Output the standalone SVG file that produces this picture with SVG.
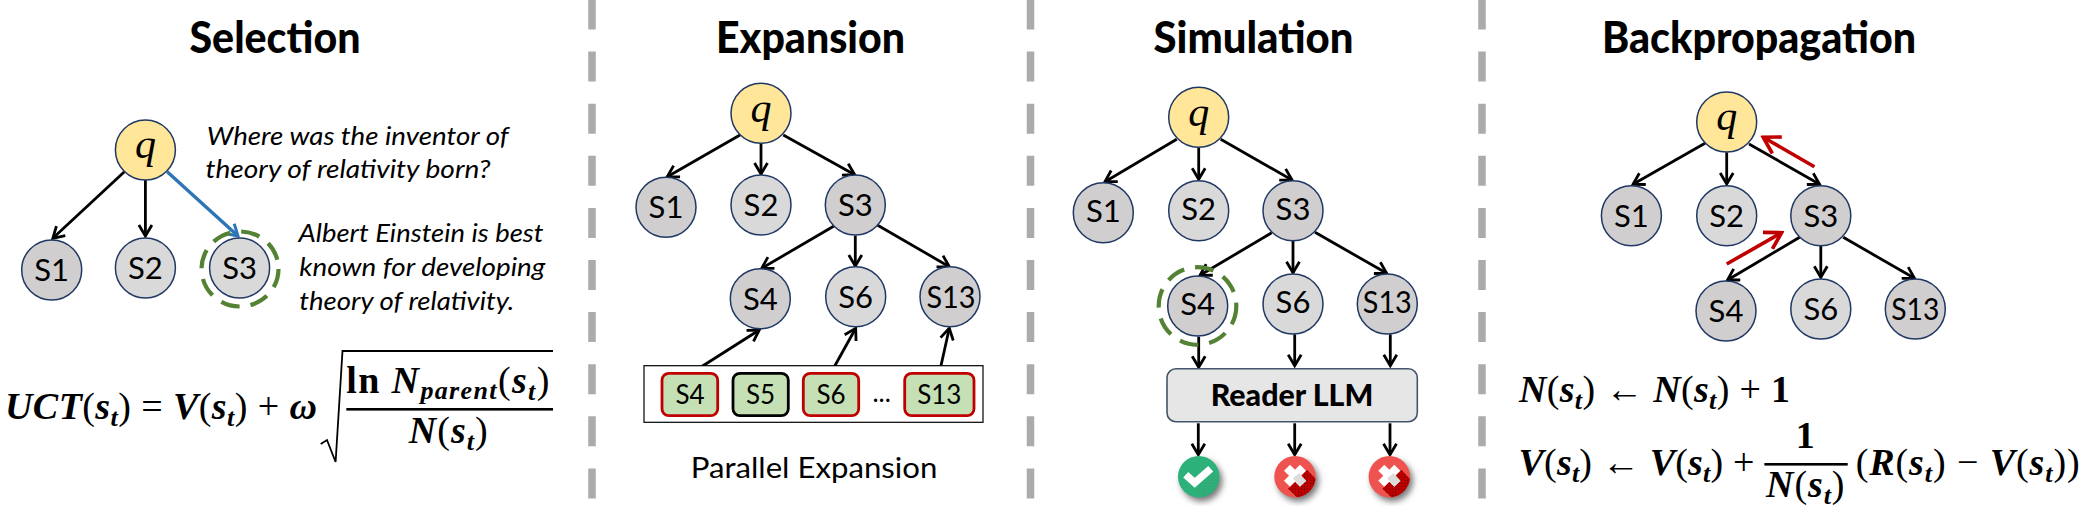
<svg xmlns="http://www.w3.org/2000/svg" xmlns:xlink="http://www.w3.org/1999/xlink" width="2088" height="506" viewBox="0 0 2088 506">
<style>
text{fill:#000;font-family:"Lato","Liberation Sans",sans-serif}
.title{font-size:43px;font-weight:900;text-anchor:middle}
.lbl{font-size:31px;text-anchor:middle}
.sm{font-size:26px;text-anchor:middle}
.it{font-size:26px;font-style:italic}
.cap{font-size:28px}
.rd{font-size:31px;font-weight:900}
.q{font-family:"Liberation Serif",serif;font-style:italic;font-size:42px;text-anchor:middle}
.eq{font-family:"Liberation Serif",serif;font-size:38px;font-weight:700;font-style:italic}
.u{font-weight:400;font-style:normal}
.ub{font-weight:700;font-style:normal}
.s{font-size:26px}
.c{stroke:#203864;stroke-width:1.5}
.a{fill:#d0cece}.b{fill:#d9d9d9}.y{fill:#ffe699}
.ring{fill:none;stroke:#548235;stroke-width:4.2;stroke-dasharray:19 11}
.sep{stroke:#ababab;stroke-width:7.5;stroke-dasharray:30 22.1}
.k{stroke:#000;stroke-width:2.8;fill:none;marker-end:url(#hk)}
.bl{stroke:#2e75b6;stroke-width:3.4;fill:none;marker-end:url(#hb)}
.r{stroke:#c00000;stroke-width:3.6;fill:none;marker-end:url(#hr)}
.cand{fill:#c5e0b4;stroke:#c00000;stroke-width:2.8}
.cand2{fill:#c5e0b4;stroke:#000;stroke-width:2.8}
</style>
<defs>
<marker id="hk" viewBox="0 0 16 16" refX="14" refY="8" markerWidth="16" markerHeight="16" markerUnits="userSpaceOnUse" orient="auto"><path d="M3,1.5 L14,8 L3,14.5" fill="none" stroke="#000" stroke-width="2.8"/></marker>
<marker id="hb" viewBox="0 0 16 16" refX="14" refY="8" markerWidth="16" markerHeight="16" markerUnits="userSpaceOnUse" orient="auto"><path d="M3,1.5 L14,8 L3,14.5" fill="none" stroke="#2e75b6" stroke-width="3"/></marker>
<marker id="hr" viewBox="0 0 22 22" refX="19" refY="11" markerWidth="22" markerHeight="22" markerUnits="userSpaceOnUse" orient="auto"><path d="M3,1.5 L19,11 L3,20.5" fill="none" stroke="#c00000" stroke-width="3.6"/></marker>
<filter id="sh" x="-30%" y="-30%" width="170%" height="170%"><feGaussianBlur stdDeviation="3"/></filter>
<clipPath id="cc"><circle r="20.7"/></clipPath>
<pattern id="dots" width="3" height="3" patternUnits="userSpaceOnUse"><rect width="3" height="3" fill="#c00000"/><rect width="1" height="1" fill="#400"/></pattern>
<pattern id="gdots" width="3" height="3" patternUnits="userSpaceOnUse"><rect width="3" height="3" fill="#2bb179"/><rect width="1" height="1" fill="#4f8f6c"/></pattern>
<g id="ok">
<circle cx="3" cy="4" r="20.7" fill="#777" filter="url(#sh)"/>
<circle r="20.7" fill="#2bb179"/>
<polygon points="-6,11 14,-5 30,12 12,30" fill="url(#gdots)" clip-path="url(#cc)"/>
<polyline points="-13,-2 -4,6 12,-8" fill="none" stroke="#fff" stroke-width="7.5"/>
</g>
<g id="no">
<circle cx="3" cy="4" r="20.7" fill="#777" filter="url(#sh)"/>
<circle r="20.7" fill="#ef5350"/>
<polygon points="-7,12 12,-7 30,12 12,30" fill="url(#dots)" clip-path="url(#cc)"/>
<path d="M-8,-9 L8,7 M8,-9 L-8,7" stroke="#fff" stroke-width="8.5" fill="none"/>
<path d="M1,-1 L8,7" stroke="#dcdcdc" stroke-width="8.5" fill="none"/>
</g>
</defs>
<rect width="2088" height="506" fill="#fff"/>

<g id="separators">
<line class="sep" x1="592" y1="-0.5" x2="592" y2="499"/>
<line class="sep" x1="1030.5" y1="-0.5" x2="1030.5" y2="499"/>
<line class="sep" x1="1482" y1="-0.5" x2="1482" y2="499"/>
</g>

<g id="titles">
<text class="title" x="275" y="53" textLength="171" lengthAdjust="spacingAndGlyphs">Selection</text>
<text class="title" x="810.5" y="53" textLength="189" lengthAdjust="spacingAndGlyphs">Expansion</text>
<text class="title" x="1253.5" y="53" textLength="200" lengthAdjust="spacingAndGlyphs">Simulation</text>
<text class="title" x="1759" y="53" textLength="314" lengthAdjust="spacingAndGlyphs">Backpropagation</text>
</g>

<g id="connectors">
<path class="k" d="M124.4,171.7 L52.8,238.3"/>
<path class="k" d="M145.4,180 V236"/>
<path class="bl" d="M167.2,171.7 L238,236"/>

<path class="k" d="M740,135 L667.3,176.7"/>
<path class="k" d="M761,143.3 V174"/>
<path class="k" d="M783.3,135 L854.7,174.7"/>
<path class="k" d="M834,226 L761.7,268.3"/>
<path class="k" d="M855.3,235.7 V266"/>
<path class="k" d="M877.7,225.3 L949.3,266.7"/>
<path class="k" d="M690,374 L759.3,330"/>
<path class="k" d="M830.7,373.3 L855.7,328.3"/>
<path class="k" d="M939.3,373.3 L949.3,328.3"/>

<path class="k" d="M1176.7,139.3 L1105,181.7"/>
<path class="k" d="M1198.7,147.3 V179.3"/>
<path class="k" d="M1220.7,139.3 L1292,180"/>
<path class="k" d="M1271.7,232.7 L1200,275.3"/>
<path class="k" d="M1293,240.7 V272.7"/>
<path class="k" d="M1315,232.3 L1386.7,273.3"/>
<path class="k" d="M1198.7,336.7 V367.3"/>
<path class="k" d="M1294.7,334.3 V365.7"/>
<path class="k" d="M1390.3,334.3 V365.7"/>
<path class="k" d="M1198.3,423.3 V454.7"/>
<path class="k" d="M1294.7,423.3 V454.7"/>
<path class="k" d="M1390,423.3 V454.7"/>

<path class="k" d="M1705,143.3 L1633,184.3"/>
<path class="k" d="M1726.7,152.3 V184"/>
<path class="k" d="M1749,144 L1819.6,184.3"/>
<path class="k" d="M1799.6,237.3 L1727.5,280"/>
<path class="k" d="M1820.8,246 V277.3"/>
<path class="k" d="M1843.3,237.3 L1914.5,278.3"/>
<path class="r" d="M1814.4,166.7 L1763.2,137.3"/>
<path class="r" d="M1726.7,264 L1781.6,232.7"/>
</g>

<g id="sel-q"><circle class="c y" cx="145.4" cy="150" r="30"/><text class="q" x="145.4" y="158">q</text></g>
<g id="sel-s1"><circle class="c a" cx="51.7" cy="270" r="30"/><text class="lbl" x="51.7" y="281">S1</text></g>
<g id="sel-s2"><circle class="c b" cx="145.4" cy="268" r="30"/><text class="lbl" x="145.4" y="279">S2</text></g>
<g id="sel-s3"><circle class="c b" cx="239.6" cy="268" r="30"/><text class="lbl" x="239.6" y="279">S3</text><ellipse class="ring" cx="240" cy="269" rx="38.5" ry="37.5"/></g>
<g id="sel-text">
<text class="it" x="206.7" y="145" textLength="302" lengthAdjust="spacingAndGlyphs">Where was the inventor of</text>
<text class="it" x="205.5" y="178" textLength="285" lengthAdjust="spacingAndGlyphs">theory of relativity born?</text>
<text class="it" x="298.5" y="241.7" textLength="245" lengthAdjust="spacingAndGlyphs">Albert Einstein is best</text>
<text class="it" x="299.3" y="276" textLength="246" lengthAdjust="spacingAndGlyphs">known for developing</text>
<text class="it" x="299.3" y="310" textLength="215" lengthAdjust="spacingAndGlyphs">theory of relativity.</text>
</g>
<g id="sel-formula">
<text class="eq" x="5" y="419" textLength="312" lengthAdjust="spacing">UCT<tspan class="u">(</tspan>s<tspan class="s" dy="7">t</tspan><tspan class="u" dy="-7">)</tspan><tspan class="u"> = </tspan>V<tspan class="u">(</tspan>s<tspan class="s" dy="7">t</tspan><tspan class="u" dy="-7">)</tspan><tspan class="u"> + </tspan>ω</text>
<path d="M320.7,444 L327,440 L335.6,462 L342.5,351 H553" fill="none" stroke="#000" stroke-width="1.8"/>
<text class="eq" x="346.3" y="392.7" textLength="203" lengthAdjust="spacing"><tspan class="ub">ln </tspan>N<tspan class="s" dy="6">parent</tspan><tspan class="u" dy="-6">(</tspan>s<tspan class="s" dy="7">t</tspan><tspan class="u" dy="-7">)</tspan></text>
<rect x="346.3" y="408" width="206.7" height="2.6"/>
<text class="eq" x="408.7" y="442.7" textLength="79" lengthAdjust="spacing">N<tspan class="u">(</tspan>s<tspan class="s" dy="7">t</tspan><tspan class="u" dy="-7">)</tspan></text>
</g>

<g id="exp-q"><circle class="c y" cx="761" cy="113.3" r="30"/><text class="q" x="761" y="121.5">q</text></g>
<g id="exp-s1"><circle class="c a" cx="666" cy="207.3" r="30"/><text class="lbl" x="666" y="218.3">S1</text></g>
<g id="exp-s2"><circle class="c b" cx="761" cy="205" r="30"/><text class="lbl" x="761" y="216">S2</text></g>
<g id="exp-s3"><circle class="c a" cx="855.3" cy="205" r="30"/><text class="lbl" x="855.3" y="216">S3</text></g>
<g id="exp-s4"><circle class="c a" cx="760.3" cy="298.7" r="30"/><text class="lbl" x="760.3" y="309.7">S4</text></g>
<g id="exp-s6"><circle class="c b" cx="855.7" cy="296.7" r="30"/><text class="lbl" x="855.7" y="307.7">S6</text></g>
<g id="exp-s13"><circle class="c a" cx="950" cy="296.7" r="30"/><text class="lbl" x="951" y="307.7" textLength="49" lengthAdjust="spacingAndGlyphs">S13</text></g>
<g id="exp-parallel">
<rect x="644" y="365.7" width="339" height="56.6" fill="#fff" stroke="#000" stroke-width="1.2"/>
<rect class="cand" x="662" y="373.3" width="55.7" height="42.4" rx="7"/><text class="sm" x="690" y="404">S4</text>
<rect class="cand2" x="733" y="373.3" width="55.3" height="42.4" rx="7"/><text class="sm" x="760.5" y="404">S5</text>
<rect class="cand" x="803.3" y="373.3" width="55.4" height="42.4" rx="7"/><text class="sm" x="831" y="404">S6</text>
<text class="sm" x="881.7" y="402">...</text>
<rect class="cand" x="904.7" y="373.3" width="69.3" height="42.4" rx="7"/><text class="sm" x="939.3" y="404">S13</text>
<text class="cap" x="690.7" y="478" textLength="246.6" lengthAdjust="spacingAndGlyphs">Parallel Expansion</text>
</g>

<g id="sim-q"><circle class="c y" cx="1198.7" cy="117.3" r="30"/><text class="q" x="1198.7" y="125.5">q</text></g>
<g id="sim-s1"><circle class="c a" cx="1103.3" cy="212.7" r="30"/><text class="lbl" x="1103.3" y="221.7">S1</text></g>
<g id="sim-s2"><circle class="c b" cx="1198.7" cy="210.7" r="30"/><text class="lbl" x="1198.7" y="219.7">S2</text></g>
<g id="sim-s3"><circle class="c a" cx="1293" cy="210.7" r="30"/><text class="lbl" x="1293" y="219.7">S3</text></g>
<g id="sim-s4"><circle class="c a" cx="1197.7" cy="306" r="30"/><text class="lbl" x="1197.7" y="315">S4</text><circle class="ring" cx="1197.5" cy="306" r="38.8"/></g>
<g id="sim-s6"><circle class="c b" cx="1293" cy="304" r="30"/><text class="lbl" x="1293" y="313">S6</text></g>
<g id="sim-s13"><circle class="c a" cx="1387.3" cy="304" r="30"/><text class="lbl" x="1387.3" y="313" textLength="49" lengthAdjust="spacingAndGlyphs">S13</text></g>
<g id="sim-reader"><rect x="1167" y="368.7" width="250.3" height="53" rx="9" fill="#e7e6e6" stroke="#44546a" stroke-width="1.6"/><text class="rd" x="1210.7" y="406" textLength="162.6" lengthAdjust="spacingAndGlyphs">Reader LLM</text></g>
<g id="sim-ok"><use xlink:href="#ok" href="#ok" x="1198.7" y="476.7"/></g>
<g id="sim-no1"><use xlink:href="#no" href="#no" x="1295" y="476.7"/></g>
<g id="sim-no2"><use xlink:href="#no" href="#no" x="1389.3" y="476.7"/></g>

<g id="bp-q"><circle class="c y" cx="1726.7" cy="122" r="30"/><text class="q" x="1726.7" y="130">q</text></g>
<g id="bp-s1"><circle class="c a" cx="1631.4" cy="215.7" r="30"/><text class="lbl" x="1631.4" y="226.7">S1</text></g>
<g id="bp-s2"><circle class="c b" cx="1726.7" cy="215.7" r="30"/><text class="lbl" x="1726.7" y="226.7">S2</text></g>
<g id="bp-s3"><circle class="c a" cx="1820.8" cy="215.7" r="30"/><text class="lbl" x="1820.8" y="226.7">S3</text></g>
<g id="bp-s4"><circle class="c a" cx="1726" cy="311" r="30"/><text class="lbl" x="1726" y="322">S4</text></g>
<g id="bp-s6"><circle class="c b" cx="1820.8" cy="309" r="30"/><text class="lbl" x="1820.8" y="320">S6</text></g>
<g id="bp-s13"><circle class="c a" cx="1915.3" cy="309" r="30"/><text class="lbl" x="1915.3" y="320" textLength="48" lengthAdjust="spacingAndGlyphs">S13</text></g>
<g id="bp-formula">
<text class="eq" x="1519" y="401.7" textLength="271" lengthAdjust="spacing">N<tspan class="u">(</tspan>s<tspan class="s" dy="7">t</tspan><tspan class="u" dy="-7">)</tspan><tspan class="u"> ← </tspan>N<tspan class="u">(</tspan>s<tspan class="s" dy="7">t</tspan><tspan class="u" dy="-7">)</tspan><tspan class="u"> + </tspan><tspan class="ub">1</tspan></text>
<text class="eq" x="1518.5" y="475" textLength="236" lengthAdjust="spacing">V<tspan class="u">(</tspan>s<tspan class="s" dy="7">t</tspan><tspan class="u" dy="-7">)</tspan><tspan class="u"> ← </tspan>V<tspan class="u">(</tspan>s<tspan class="s" dy="7">t</tspan><tspan class="u" dy="-7">)</tspan><tspan class="u"> +</tspan></text>
<text class="eq" x="1805.2" y="447.7" text-anchor="middle"><tspan class="ub">1</tspan></text>
<rect x="1764.4" y="463" width="83.3" height="2.6"/>
<text class="eq" x="1766" y="496.7" textLength="78.5" lengthAdjust="spacing">N<tspan class="u">(</tspan>s<tspan class="s" dy="7">t</tspan><tspan class="u" dy="-7">)</tspan></text>
<text class="eq" x="1855.7" y="475" textLength="224" lengthAdjust="spacing"><tspan class="u">(</tspan>R<tspan class="u">(</tspan>s<tspan class="s" dy="7">t</tspan><tspan class="u" dy="-7">)</tspan><tspan class="u"> − </tspan>V<tspan class="u">(</tspan>s<tspan class="s" dy="7">t</tspan><tspan class="u" dy="-7">))</tspan></text>
</g>
</svg>
